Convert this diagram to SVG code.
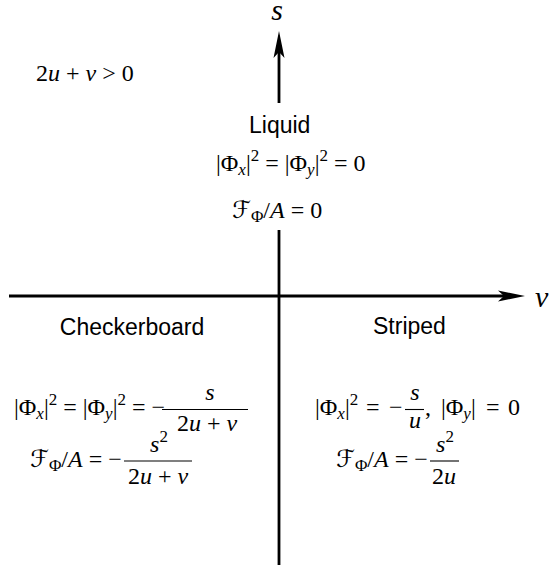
<svg xmlns="http://www.w3.org/2000/svg" width="553" height="570" viewBox="0 0 553 570">
<style>
.m{font-family:"Liberation Serif","DejaVu Serif",serif;font-size:24px;fill:#000}
.i{font-style:italic}
.s{font-size:17px}
.cal{font-family:"DejaVu Serif","DejaVu Sans",serif;font-style:italic}
.ax{font-family:"Liberation Serif","DejaVu Serif",serif;font-style:italic;font-size:30px;fill:#000}
.t{font-family:"Liberation Sans","DejaVu Sans",sans-serif;font-size:23px;fill:#000}
.axis{stroke:#000;stroke-width:2.8;fill:none}
.bar{stroke:#000;stroke-width:1.1}
</style>
<defs>
<marker id="ah" markerUnits="userSpaceOnUse" viewBox="-7 -6 28 12" refX="0" refY="0" markerWidth="28" markerHeight="12" orient="auto">
<path d="M21,0 L-6,-5.5 L0,0 L-6,5.5 Z" fill="#000"/>
</marker>
</defs>
<g id="connectors">
<path class="axis" d="M9,296 H504" marker-end="url(#ah)"/>
<path class="axis" d="M279,565 V230 M279,103 V52" marker-end="url(#ah)"/>
</g>
<g id="axis-s"><text class="ax" x="277" y="20" text-anchor="middle">s</text></g>
<g id="axis-v"><text class="ax" x="535" y="307">v</text></g>
<g id="condition"><text class="m" x="36" y="81">2<tspan class="i">u</tspan> + <tspan class="i">v</tspan> &gt; 0</text></g>
<g id="liquid">
<text class="t" x="249" y="133">Liquid</text>
<text class="m" x="216" y="171">|Φ<tspan class="i s" dy="4">x</tspan><tspan dy="-4">|</tspan><tspan class="s" dy="-10">2</tspan><tspan dy="10"> = |Φ</tspan><tspan class="i s" dy="4">y</tspan><tspan dy="-4">|</tspan><tspan class="s" dy="-10">2</tspan><tspan dy="10"> = 0</tspan></text>
<text class="m" x="232" y="218"><tspan class="cal">ℱ</tspan><tspan class="s" dy="4">Φ</tspan><tspan dy="-4">/</tspan><tspan class="i">A</tspan> = 0</text>
</g>
<g id="checkerboard">
<text class="t" x="132" y="335" text-anchor="middle">Checkerboard</text>
<text class="m" x="14" y="415">|Φ<tspan class="i s" dy="4">x</tspan><tspan dy="-4">|</tspan><tspan class="s" dy="-10">2</tspan><tspan dy="10"> = |Φ</tspan><tspan class="i s" dy="4">y</tspan><tspan dy="-4">|</tspan><tspan class="s" dy="-10">2</tspan><tspan dy="10"> = −</tspan></text>
<line class="bar" x1="162" y1="409.5" x2="248" y2="409.5"/>
<text class="m i" x="210" y="400" text-anchor="middle">s</text>
<text class="m" x="207" y="431" text-anchor="middle">2<tspan class="i">u</tspan> + <tspan class="i">v</tspan></text>
<text class="m" x="30" y="467"><tspan class="cal">ℱ</tspan><tspan class="s" dy="4">Φ</tspan><tspan dy="-4">/</tspan><tspan class="i">A</tspan> = −</text>
<line class="bar" x1="124" y1="461" x2="192" y2="461"/>
<text class="m" x="159" y="452" text-anchor="middle"><tspan class="i">s</tspan><tspan class="s" dy="-10">2</tspan></text>
<text class="m" x="158" y="484" text-anchor="middle">2<tspan class="i">u</tspan> + <tspan class="i">v</tspan></text>
</g>
<g id="striped">
<text class="t" x="373" y="334">Striped</text>
<text class="m" x="315" y="415">|Φ<tspan class="i s" dy="4">x</tspan><tspan dy="-4">|</tspan><tspan class="s" dy="-10">2</tspan><tspan x="366" dy="10">=</tspan><tspan x="389">−</tspan></text>
<line class="bar" x1="405" y1="409.5" x2="424" y2="409.5"/>
<text class="m i" x="415" y="400" text-anchor="middle">s</text>
<text class="m i" x="415" y="428" text-anchor="middle">u</text>
<text class="m" x="425" y="415">,<tspan x="441">|Φ</tspan><tspan class="i s" dy="4">y</tspan><tspan dy="-4">|</tspan><tspan x="486">=</tspan><tspan x="508">0</tspan></text>
<text class="m" x="336" y="467"><tspan class="cal">ℱ</tspan><tspan class="s" dy="4">Φ</tspan><tspan dy="-4">/</tspan><tspan class="i">A</tspan> = −</text>
<line class="bar" x1="430" y1="461" x2="459" y2="461"/>
<text class="m" x="445" y="452" text-anchor="middle"><tspan class="i">s</tspan><tspan class="s" dy="-10">2</tspan></text>
<text class="m" x="444" y="484" text-anchor="middle">2<tspan class="i">u</tspan></text>
</g>
</svg>
